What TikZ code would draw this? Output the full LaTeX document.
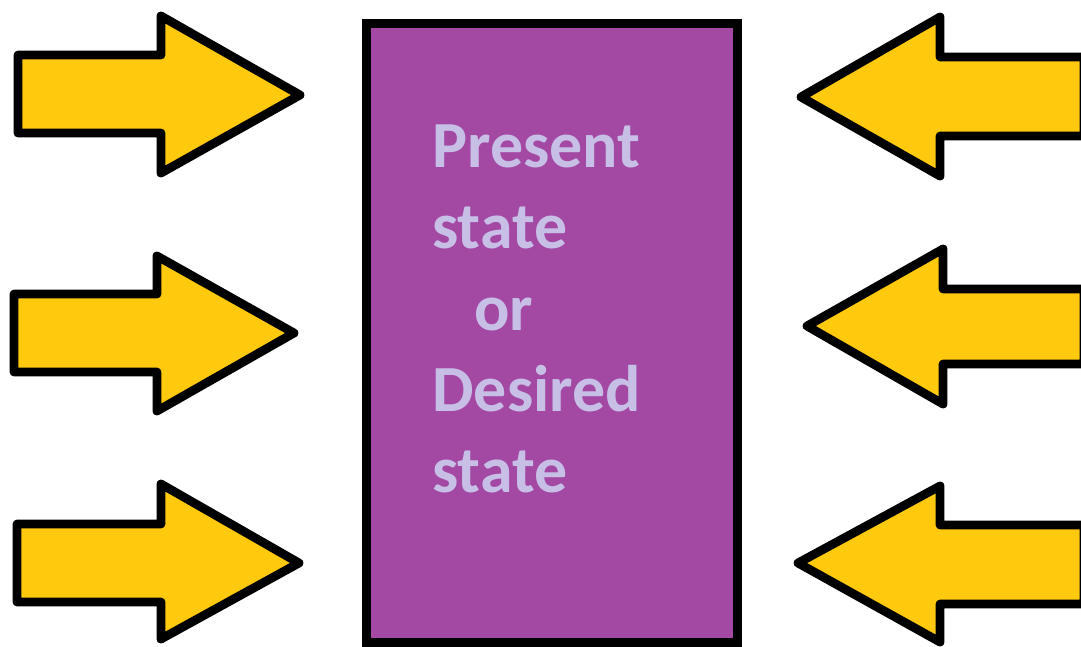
\documentclass[tikz,border=0pt]{standalone}
\usepackage{fontspec}
\setsansfont{Carlito}
\usepackage{tikz}
\usetikzlibrary{positioning}
\definecolor{boxpurple}{HTML}{A349A4}
\definecolor{textlav}{HTML}{C8BFE7}
\definecolor{arrowgold}{HTML}{FFC90E}
\begin{document}
\begin{tikzpicture}[x=0.02cm, y=-0.02cm,
    blockarrow/.style={draw=black, fill=arrowgold, line width=5pt, line join=round},
    statebox/.style={draw=black, fill=boxpurple, line width=5.1pt,
                     minimum width=7.42cm, minimum height=12.4cm, inner sep=0pt},
    stateline/.style={anchor=base west, inner sep=0pt, text=textlav,
                      font=\sffamily\bfseries\fontsize{37.5}{44}\selectfont}]

    \useasboundingbox (0,0) rectangle (1081,646);

    % central block
    \node[statebox] (box) at (552,333) {};

    \node[stateline] (l1) at (432,167) {Present};
    \node[stateline] (l2) at (432,248) {state};
    \node[stateline] (l3) at (474,330) {or};
    \node[stateline] (l4) at (432,411) {Desired};
    \node[stateline] (l5) at (432,492) {state};

    % arrows from the left
    \draw[blockarrow] (18,55) -- (161,55) -- (161,16) -- (300,95)
      -- (161,173) -- (161,133) -- (18,133) -- cycle;
    \draw[blockarrow] (14,294) -- (157,294) -- (157,256) -- (294,333)
      -- (157,411) -- (157,372) -- (14,372) -- cycle;
    \draw[blockarrow] (17,524) -- (161,524) -- (161,484) -- (299,563)
      -- (161,639) -- (161,602) -- (17,602) -- cycle;

    % arrows from the right
    \draw[blockarrow] (1084,57) -- (940,57) -- (940,17) -- (801,97)
      -- (940,176) -- (940,136) -- (1084,136) -- cycle;
    \draw[blockarrow] (1084,289) -- (943,289) -- (943,249) -- (807,326)
      -- (943,404) -- (943,364) -- (1084,364) -- cycle;
    \draw[blockarrow] (1084,525) -- (940,525) -- (940,486) -- (798,563)
      -- (940,642) -- (940,604) -- (1084,604) -- cycle;
\end{tikzpicture}
\end{document}
